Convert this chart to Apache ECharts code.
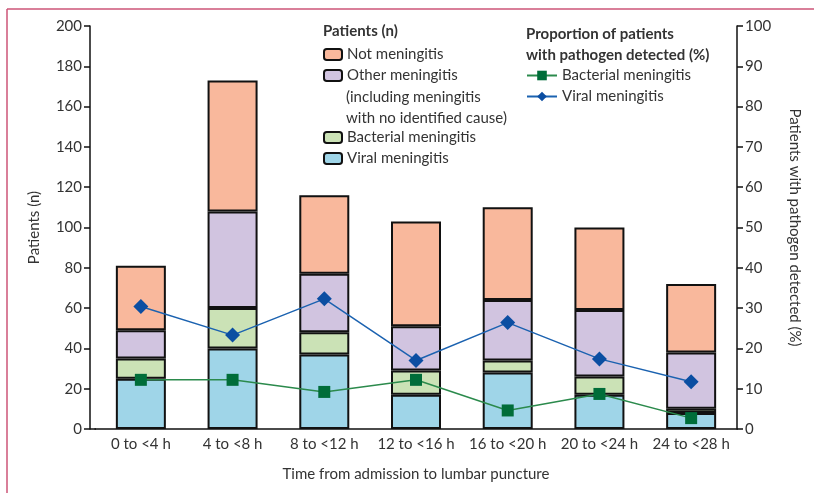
<!DOCTYPE html>
<html>
<head>
<meta charset="utf-8">
<script src="https://cdn.jsdelivr.net/npm/echarts@6/dist/echarts.min.js"></script>
<style>
  html, body { margin: 0; padding: 0; background: #fff; }
  #chart { width: 814px; height: 493px; }
</style>
</head>
<body>
<div id="chart"></div>
<script>
// categories (time from admission to LP)
const categories = ['0 to <4 h', '4 to <8 h', '8 to <12 h', '12 to <16 h', '16 to <20 h', '20 to <24 h', '24 to <28 h'];

// patients (n), stacked bottom -> top
const viralN = [25, 40, 37, 17, 28, 17, 8];
const bacterialN = [10, 20, 11, 12, 6, 9, 2];
const otherN = [14, 48, 29, 22, 30, 33, 28];
const notN = [32, 65, 39, 52, 46, 41, 34];

// proportion with pathogen detected (%)
const viralPct = [30.4, 23.3, 32.3, 17.0, 26.4, 17.4, 11.7];
const bacterialPct = [12.2, 12.2, 9.2, 12.2, 4.6, 8.7, 2.7];

const leftTicks = { min: 0, max: 200, interval: 20 };
const rightTicks = { min: 0, max: 100, interval: 10 };

const FONT = 'Lato';
const FS = 15;
const TXT = '#333';
const col = {
  not: '#f9b89c',
  other: '#d1c4e0',
  bact: '#cbe2b6',
  viral: '#9fd5e8',
  bactLine: '#2b8a4c',
  bactMark: '#006d39',
  viralLine: '#1b62b0',
  viralMark: '#0b4ea2'
};

const chart = echarts.init(document.getElementById('chart'));

const barBase = {
  type: 'bar',
  stack: 'n',
  barWidth: 50,
  itemStyle: { borderColor: '#111', borderWidth: 2 }
};

const legendText = { fontFamily: FONT, fontSize: FS, color: TXT, lineHeight: 17 };

const option = {
  animation: false,
  textStyle: { fontFamily: FONT },
  grid: { left: 95, right: 77, top: 26, bottom: 64 },
  legend: [
    {
      orient: 'vertical', left: 323, top: 46, padding: 0,
      itemWidth: 18, itemHeight: 11, itemGap: 4,
      textStyle: legendText,
      data: ['Not meningitis', 'Other meningitis']
    },
    {
      orient: 'vertical', left: 323, top: 129, padding: 0,
      itemWidth: 18, itemHeight: 11, itemGap: 4,
      textStyle: legendText,
      data: ['Bacterial meningitis', 'Viral meningitis']
    },
    {
      orient: 'vertical', left: 526, top: 67, padding: 0,
      itemWidth: 30, itemHeight: 12, itemGap: 4,
      textStyle: legendText,
      data: ['Bacterial meningitis ', 'Viral meningitis ']
    }
  ],
  graphic: [
    { type: 'line', shape: { x1: 7, y1: 9, x2: 814, y2: 9 }, style: { stroke: '#cc5577', lineWidth: 1.5 } },
    { type: 'line', shape: { x1: 7, y1: 9, x2: 7, y2: 493 }, style: { stroke: '#cc5577', lineWidth: 1.5 } },
    // short piece so the x axis meets the offset left axis
    { type: 'line', shape: { x1: 90, y1: 429, x2: 96, y2: 429 }, style: { stroke: '#111', lineWidth: 1.5 } },
    { type: 'text', left: 323, top: 24, style: { text: 'Patients (n)', font: 'bold ' + FS + 'px ' + FONT, fill: TXT } },
    { type: 'text', left: 526, top: 24, style: { text: 'Proportion of patients\nwith pathogen detected (%)', font: 'bold ' + FS + 'px ' + FONT, fill: TXT, lineHeight: 21 } },
    { type: 'text', left: 346, top: 87, style: { text: '(including meningitis\nwith no identified cause)', font: FS + 'px ' + FONT, fill: TXT, lineHeight: 21 } }
  ],
  xAxis: {
    type: 'category',
    data: categories,
    name: 'Time from admission to lumbar puncture',
    nameLocation: 'middle',
    nameGap: 38,
    nameTextStyle: { fontFamily: FONT, fontSize: FS, color: TXT },
    axisLine: { lineStyle: { color: '#111', width: 1.5 } },
    axisTick: { length: 7, lineStyle: { color: '#111', width: 1.5 } },
    axisLabel: { interval: 0, fontFamily: FONT, fontSize: FS, color: TXT, margin: 8 }
  },
  yAxis: [
    {
      type: 'value',
      offset: 5,
      min: leftTicks.min, max: leftTicks.max, interval: leftTicks.interval,
      name: 'Patients (n)',
      nameLocation: 'middle',
      nameGap: 48,
      nameTextStyle: { fontFamily: FONT, fontSize: FS, color: TXT },
      axisLine: { show: true, lineStyle: { color: '#111', width: 1.5 } },
      axisTick: { show: true, length: 6, lineStyle: { color: '#111', width: 1.5 } },
      axisLabel: { fontFamily: FONT, fontSize: FS, color: TXT, margin: 8 },
      splitLine: { show: false }
    },
    {
      type: 'value',
      position: 'right',
      min: rightTicks.min, max: rightTicks.max, interval: rightTicks.interval,
      name: 'Patients with pathogen detected (%)',
      nameLocation: 'middle',
      nameRotate: -90,
      nameGap: 50,
      nameTextStyle: { fontFamily: FONT, fontSize: FS, color: TXT },
      axisLine: { show: true, lineStyle: { color: '#111', width: 1.5 } },
      axisTick: { show: true, length: 6, lineStyle: { color: '#111', width: 1.5 } },
      axisLabel: { fontFamily: FONT, fontSize: FS, color: TXT, margin: 8 },
      splitLine: { show: false }
    }
  ],
  series: [
    Object.assign({}, barBase, { name: 'Viral meningitis', data: viralN, itemStyle: Object.assign({}, barBase.itemStyle, { color: col.viral }) }),
    Object.assign({}, barBase, { name: 'Bacterial meningitis', data: bacterialN, itemStyle: Object.assign({}, barBase.itemStyle, { color: col.bact }) }),
    Object.assign({}, barBase, { name: 'Other meningitis', data: otherN, itemStyle: Object.assign({}, barBase.itemStyle, { color: col.other }) }),
    Object.assign({}, barBase, { name: 'Not meningitis', data: notN, itemStyle: Object.assign({}, barBase.itemStyle, { color: col.not }) }),
    {
      name: 'Bacterial meningitis ',
      type: 'line',
      yAxisIndex: 1,
      data: bacterialPct,
      symbol: 'rect',
      symbolSize: 12,
      z: 5,
      lineStyle: { color: col.bactLine, width: 1.5 },
      itemStyle: { color: col.bactMark }
    },
    {
      name: 'Viral meningitis ',
      type: 'line',
      yAxisIndex: 1,
      data: viralPct,
      symbol: 'diamond',
      symbolSize: 15,
      z: 5,
      lineStyle: { color: col.viralLine, width: 1.5 },
      itemStyle: { color: col.viralMark }
    }
  ]
};

chart.setOption(option);
</script>
</body>
</html>
